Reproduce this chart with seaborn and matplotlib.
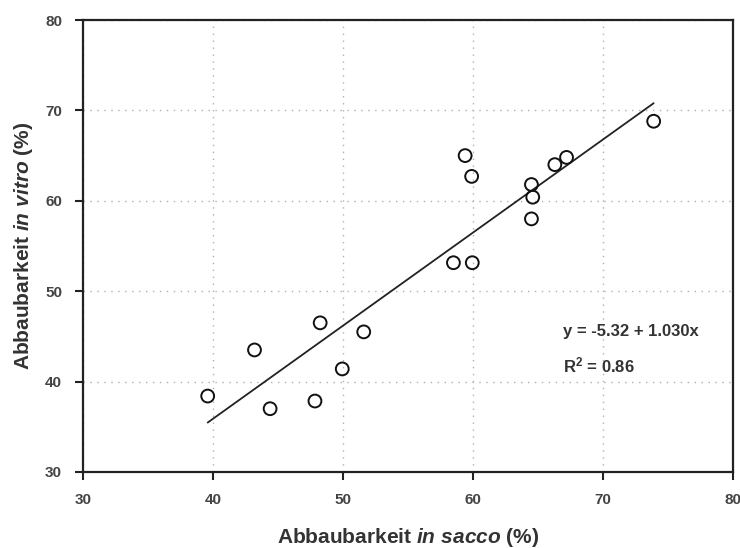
import numpy as np
import pandas as pd
import seaborn as sns
import matplotlib
matplotlib.use('Agg')
import matplotlib.pyplot as plt

sns.set_style('ticks')
plt.rcParams['font.family'] = ['Liberation Sans', 'DejaVu Sans']
plt.rcParams['mathtext.fontset'] = 'custom'
plt.rcParams['mathtext.it'] = 'Liberation Sans:italic:bold'
plt.rcParams['mathtext.rm'] = 'Liberation Sans:bold'

# Abbaubarkeit in sacco / in vitro (%)
in_sacco = [39.6, 43.2, 44.4, 47.85, 48.25, 49.95, 51.6, 58.5, 59.95, 59.4, 59.9,
            64.5, 64.6, 64.5, 66.3, 67.2, 73.9]
in_vitro = [38.4, 43.5, 37.0, 37.85, 46.5, 41.4, 45.5, 53.15, 53.15, 65.0, 62.7,
            58.0, 60.4, 61.8, 64.0, 64.8, 68.8]

# Regression
intercept = -5.32
slope = 1.030
r2 = 0.86

df = pd.DataFrame({'sacco': in_sacco, 'vitro': in_vitro})
fit = pd.DataFrame({'sacco': [min(in_sacco), max(in_sacco)]})
fit['vitro'] = intercept + slope * fit['sacco']

fig = plt.figure(figsize=(7.4, 5.48), dpi=100)
ax = fig.add_axes([0.112, 0.1387, 0.8785, 0.8248])

ax.grid(True, linestyle=(0, (1, 4)), color='#b0b0b0', linewidth=1.0)
sns.lineplot(data=fit, x='sacco', y='vitro', color='#222222', linewidth=1.3, ax=ax, zorder=2)
sns.scatterplot(data=df, x='sacco', y='vitro', marker='o', s=85, facecolor='none',
                edgecolor='#111111', linewidth=1.4, ax=ax, zorder=3)

ax.set_xlim(30, 80)
ax.set_ylim(30, 80)
ax.set_xticks([30, 40, 50, 60, 70, 80])
ax.set_yticks([30, 40, 50, 60, 70, 80])
for s in ax.spines.values():
    s.set_linewidth(1.6)
    s.set_color('#222222')
ax.tick_params(direction='out', length=6, width=1.5, labelsize=11, colors='#222222')
ax.tick_params(axis='x', pad=9)
ax.tick_params(axis='y', pad=9)
for lab in ax.get_xticklabels() + ax.get_yticklabels():
    lab.set_fontweight('bold')
    lab.set_color('#444444')

ax.set_xlabel(r'Abbaubarkeit $\mathit{in\ sacco}$ (%)', fontsize=15, fontweight='bold',
              color='#333333', labelpad=14)
ax.set_ylabel(r'Abbaubarkeit $\mathit{in\ vitro}$ (%)', fontsize=15, fontweight='bold',
              color='#333333', labelpad=7)

ax.text(66.9, 45.5, 'y = -5.32 + 1.030x', fontsize=12, fontweight='bold',
        color='#333333', va='center', ha='left')
ax.text(66.9, 41.8, r'R$^2$ = 0.86', fontsize=12, fontweight='bold',
        color='#333333', va='center', ha='left')

fig.savefig('out.png', dpi=100)
